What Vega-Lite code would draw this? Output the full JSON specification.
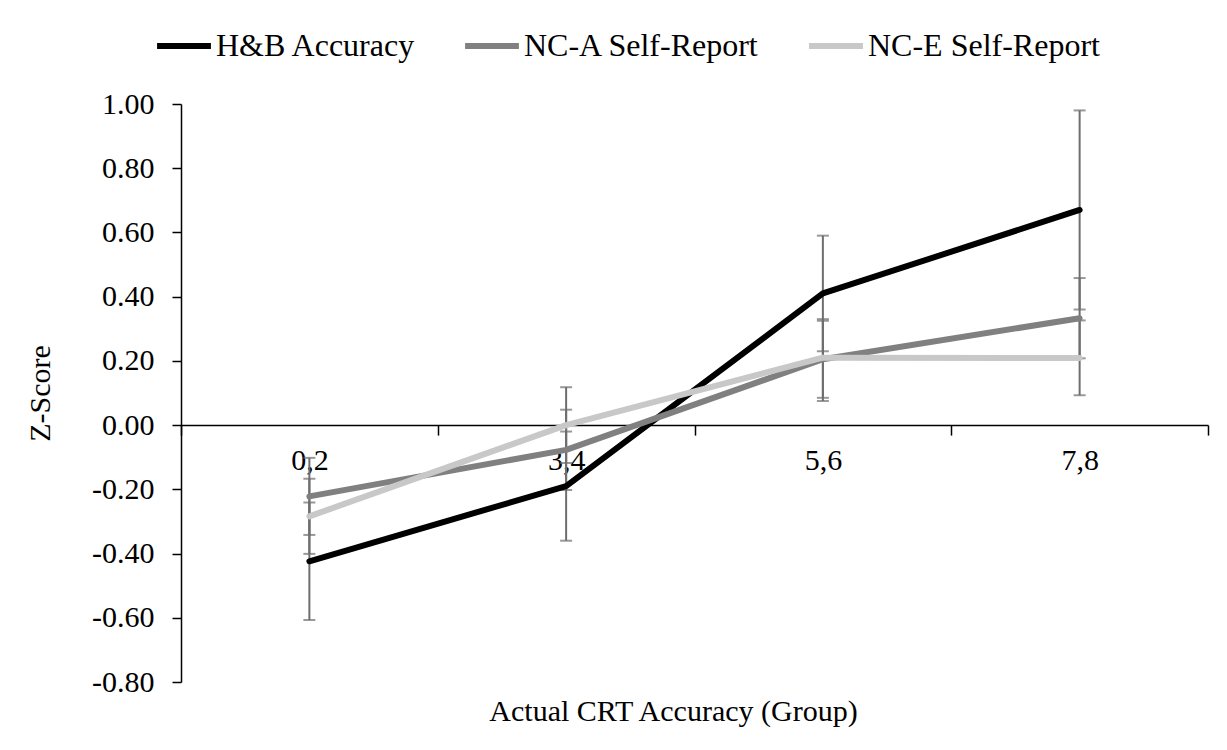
{
  "$schema": "https://vega.github.io/schema/vega-lite/v6.json",
  "width": 1027,
  "height": 578,
  "autosize": {"type": "none"},
  "padding": {"left": 181, "top": 104, "right": 19, "bottom": 68},
  "background": "white",
  "config": {
    "locale": {"number": {"decimal": ".", "thousands": ",", "grouping": [3], "currency": ["$", ""], "minus": "-"}},
    "view": {"stroke": null},
    "font": "Liberation Serif"
  },
  "data": {
    "values": [
      {"group": "0,2", "series": "H&B Accuracy", "z": -0.424, "lo": -0.607, "hi": -0.241},
      {"group": "3,4", "series": "H&B Accuracy", "z": -0.19, "lo": -0.36, "hi": -0.02},
      {"group": "5,6", "series": "H&B Accuracy", "z": 0.41, "lo": 0.23, "hi": 0.59},
      {"group": "7,8", "series": "H&B Accuracy", "z": 0.67, "lo": 0.36, "hi": 0.98},
      {"group": "0,2", "series": "NC-A Self-Report", "z": -0.222, "lo": -0.342, "hi": -0.102},
      {"group": "3,4", "series": "NC-A Self-Report", "z": -0.077, "lo": -0.202, "hi": 0.048},
      {"group": "5,6", "series": "NC-A Self-Report", "z": 0.205, "lo": 0.085, "hi": 0.325},
      {"group": "7,8", "series": "NC-A Self-Report", "z": 0.333, "lo": 0.208, "hi": 0.458},
      {"group": "0,2", "series": "NC-E Self-Report", "z": -0.284, "lo": -0.401, "hi": -0.167},
      {"group": "3,4", "series": "NC-E Self-Report", "z": 0.0, "lo": -0.118, "hi": 0.118},
      {"group": "5,6", "series": "NC-E Self-Report", "z": 0.21, "lo": 0.075, "hi": 0.33},
      {"group": "7,8", "series": "NC-E Self-Report", "z": 0.209, "lo": 0.093, "hi": 0.326}
    ]
  },
  "encoding": {
    "x": {
      "field": "group",
      "type": "nominal",
      "sort": ["0,2", "3,4", "5,6", "7,8"],
      "scale": {"type": "band", "paddingInner": 0, "paddingOuter": 0},
      "axis": {
        "title": "Actual CRT Accuracy (Group)",
        "offset": -256.9,
        "tickBand": "extent",
        "tickSize": 10,
        "tickColor": "black",
        "tickWidth": 1.5,
        "domainColor": "black",
        "domainWidth": 1.5,
        "labelAngle": 0,
        "labelFont": "Liberation Serif",
        "labelFontSize": 30,
        "labelColor": "black",
        "labelPadding": 10,
        "labelBaseline": "top",
        "grid": false,
        "titleFont": "Liberation Serif",
        "titleFontSize": 30,
        "titleFontWeight": "normal",
        "titleColor": "black",
        "titleX": 492,
        "titleY": 286,
        "titleBaseline": "middle",
        "titleAlign": "center"
      }
    }
  },
  "layer": [
    {
      "mark": {"type": "rule", "color": "#6e6e6e", "strokeWidth": 2},
      "encoding": {
        "y": {"field": "lo", "type": "quantitative", "scale": {"domain": [-0.8, 1.0], "nice": false, "zero": false}},
        "y2": {"field": "hi"}
      }
    },
    {
      "mark": {"type": "tick", "size": 12, "thickness": 2, "color": "#6e6e6e"},
      "encoding": {"y": {"field": "lo", "type": "quantitative"}}
    },
    {
      "mark": {"type": "tick", "size": 12, "thickness": 2, "color": "#6e6e6e"},
      "encoding": {"y": {"field": "hi", "type": "quantitative"}}
    },
    {
      "mark": {"type": "line", "strokeWidth": 6, "strokeCap": "round", "strokeJoin": "round"},
      "encoding": {
        "y": {
          "field": "z",
          "type": "quantitative",
          "scale": {"domain": [-0.8, 1.0], "nice": false, "zero": false},
          "axis": {
            "title": "Z-Score",
            "values": [-0.8, -0.6, -0.4, -0.2, 0, 0.2, 0.4, 0.6, 0.8, 1.0],
            "format": ".2f",
            "grid": false,
            "tickSize": 9,
            "tickColor": "black",
            "tickWidth": 1.5,
            "domainColor": "black",
            "domainWidth": 1.5,
            "labelFont": "Liberation Serif",
            "labelFontSize": 30,
            "labelColor": "black",
            "labelPadding": 18,
            "titleFont": "Liberation Serif",
            "titleFontSize": 30,
            "titleFontWeight": "normal",
            "titleColor": "black",
            "titleAngle": -90,
            "titleX": -141,
            "titleY": 289,
            "titleBaseline": "middle",
            "titleAlign": "center"
          }
        },
        "color": {
          "field": "series",
          "type": "nominal",
          "scale": {"domain": ["H&B Accuracy", "NC-A Self-Report", "NC-E Self-Report"], "range": ["#000000", "#808080", "#c8c8c8"]},
          "legend": {
            "orient": "none",
            "direction": "horizontal",
            "legendX": -27,
            "legendY": -88,
            "title": null,
            "symbolType": "stroke",
            "symbolSize": 2900,
            "symbolStrokeWidth": 6,
            "labelFont": "Liberation Serif",
            "labelFontSize": 32,
            "labelColor": "black",
            "labelOffset": 2,
            "labelLimit": 400,
            "columnPadding": 37
          }
        }
      }
    }
  ]
}
